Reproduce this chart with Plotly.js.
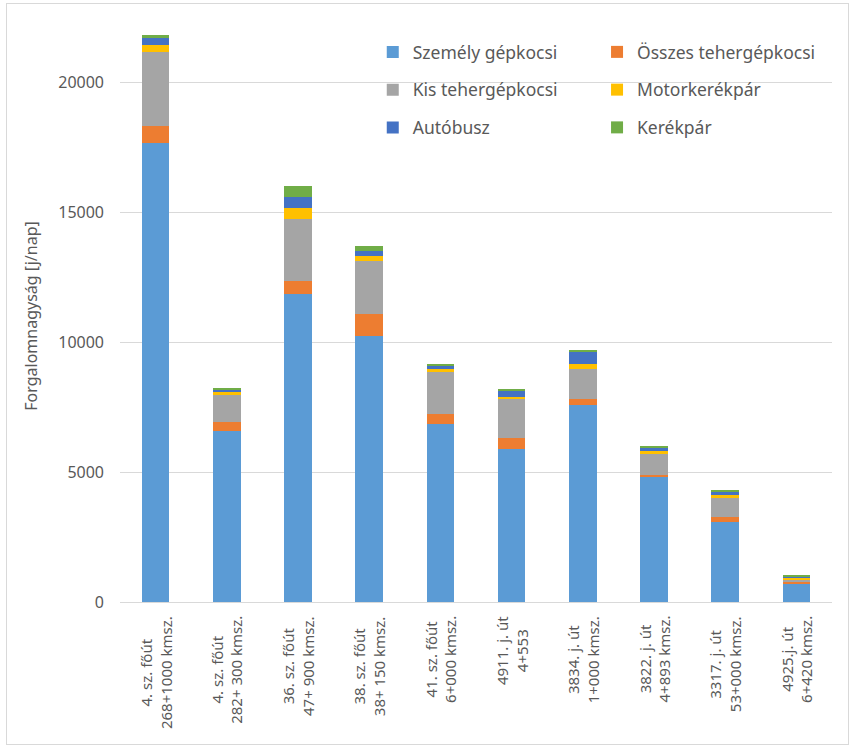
<!DOCTYPE html>
<html>
<head>
<meta charset="utf-8">
<script src="https://cdn.plot.ly/plotly-3.0.1.min.js"></script>
<style>
  body { margin: 0; background: #fff; }
  #chart { position: absolute; left: 0; top: 0; width: 854px; height: 748px; }
  #frame { position: absolute; left: 6px; top: 3px; width: 841px; height: 740px; border: 1px solid #d9d9d9; pointer-events: none; }
</style>
</head>
<body>
<div id="chart"></div>
<div id="frame"></div>
<script>
const categories = [
  "4. sz. főút<br>268+1000 kmsz.",
  "4. sz. főút<br>282+ 300 kmsz.",
  "36. sz. főút<br>47+ 900 kmsz.",
  "38. sz. főút<br>38+ 150 kmsz.",
  "41. sz. főút<br>6+000 kmsz.",
  "4911. j. út<br>4+553",
  "3834. j. út<br>1+000 kmsz.",
  "3822. j. út<br>4+893 kmsz.",
  "3317. j. út<br>53+000 kmsz.",
  "4925.j. út<br>6+420 kmsz."
];
const szemely   = [17650, 6580, 11850, 10240, 6830, 5870, 7580, 4795, 3090, 690];
const osszesTeh = [650,   355,  510,   820,   400,  450,  215,  90,   165,  90];
const kisTeh    = [2850,  1025, 2360,  2050,  1600, 1510, 1165, 820,  745,  100];
const motor     = [270,   130,  420,   205,   130,  50,   180,  90,   115,  50];
const autobusz  = [310,   90,   435,   180,   140,  260,  490,  115,  100,  50];
const kerekpar  = [60,    50,   425,   205,   50,   50,   50,   90,   90,   50];

const seriesNames = ["Személy gépkocsi", "Összes tehergépkocsi", "Kis tehergépkocsi", "Motorkerékpár", "Autóbusz", "Kerékpár"];
const seriesValues = [szemely, osszesTeh, kisTeh, motor, autobusz, kerekpar];
const seriesColors = ["#5B9BD5", "#ED7D31", "#A5A5A5", "#FFC000", "#4472C4", "#70AD47"];
const seriesLegend = ["legend", "legend2", "legend", "legend2", "legend", "legend2"];

const xIdx = categories.map((c, i) => i);

const traces = seriesNames.map((name, k) => ({
  type: "bar",
  name: name,
  x: xIdx,
  y: seriesValues[k],
  marker: { color: seriesColors[k], line: { width: 0 } },
  legend: seriesLegend[k],
  legendgroup: "g" + k,
  hoverinfo: "name+y"
}));

const textColor = "#595959";
const annotations = categories.map((c, i) => ({
  x: i, xref: "x",
  y: 0, yref: "paper",
  yanchor: "top", xanchor: "center",
  yshift: -12,
  text: c,
  textangle: -90,
  align: "center",
  showarrow: false,
  font: { family: "Noto Sans, sans-serif", size: 15, color: textColor }
}));

const legendFont = { family: "Noto Sans, sans-serif", size: 17.5, color: textColor };

const layout = {
  width: 854, height: 748,
  margin: { l: 120, r: 22, t: 30, b: 146 },
  paper_bgcolor: "rgba(0,0,0,0)",
  plot_bgcolor: "#fff",
  barmode: "stack",
  bargap: 0.61,
  font: { family: "Noto Sans, sans-serif", color: textColor },
  xaxis: {
    type: "linear",
    range: [-0.5, categories.length - 0.5],
    showgrid: false,
    zeroline: false,
    showline: true,
    linecolor: "#D9D9D9",
    linewidth: 1,
    showticklabels: false,
    ticks: "",
    fixedrange: true
  },
  yaxis: {
    range: [0, 22000],
    tickvals: [0, 5000, 10000, 15000, 20000],
    ticktext: ["0", "5000", "10000", "15000", "20000"],
    showgrid: true,
    gridcolor: "#D9D9D9",
    gridwidth: 1,
    zeroline: false,
    showline: false,
    ticks: "",
    ticklabelstandoff: 15,
    tickfont: { family: "Noto Sans, sans-serif", size: 16, color: textColor },
    title: { text: "Forgalomnagyság [j/nap]", font: { family: "Noto Sans, sans-serif", size: 16, color: textColor }, standoff: 16 },
    fixedrange: true
  },
  legend: {
    x: 0.355, y: 0.993, xanchor: "left", yanchor: "top",
    orientation: "v",
    traceorder: "grouped",
    tracegroupgap: 12,
    bgcolor: "rgba(0,0,0,0)",
    font: legendFont
  },
  legend2: {
    x: 0.67, y: 0.993, xanchor: "left", yanchor: "top",
    orientation: "v",
    traceorder: "grouped",
    tracegroupgap: 12,
    bgcolor: "rgba(0,0,0,0)",
    font: legendFont
  },
  annotations: annotations,
  showlegend: true
};

Plotly.newPlot("chart", traces, layout, { displayModeBar: false, staticPlot: false });
</script>
</body>
</html>
